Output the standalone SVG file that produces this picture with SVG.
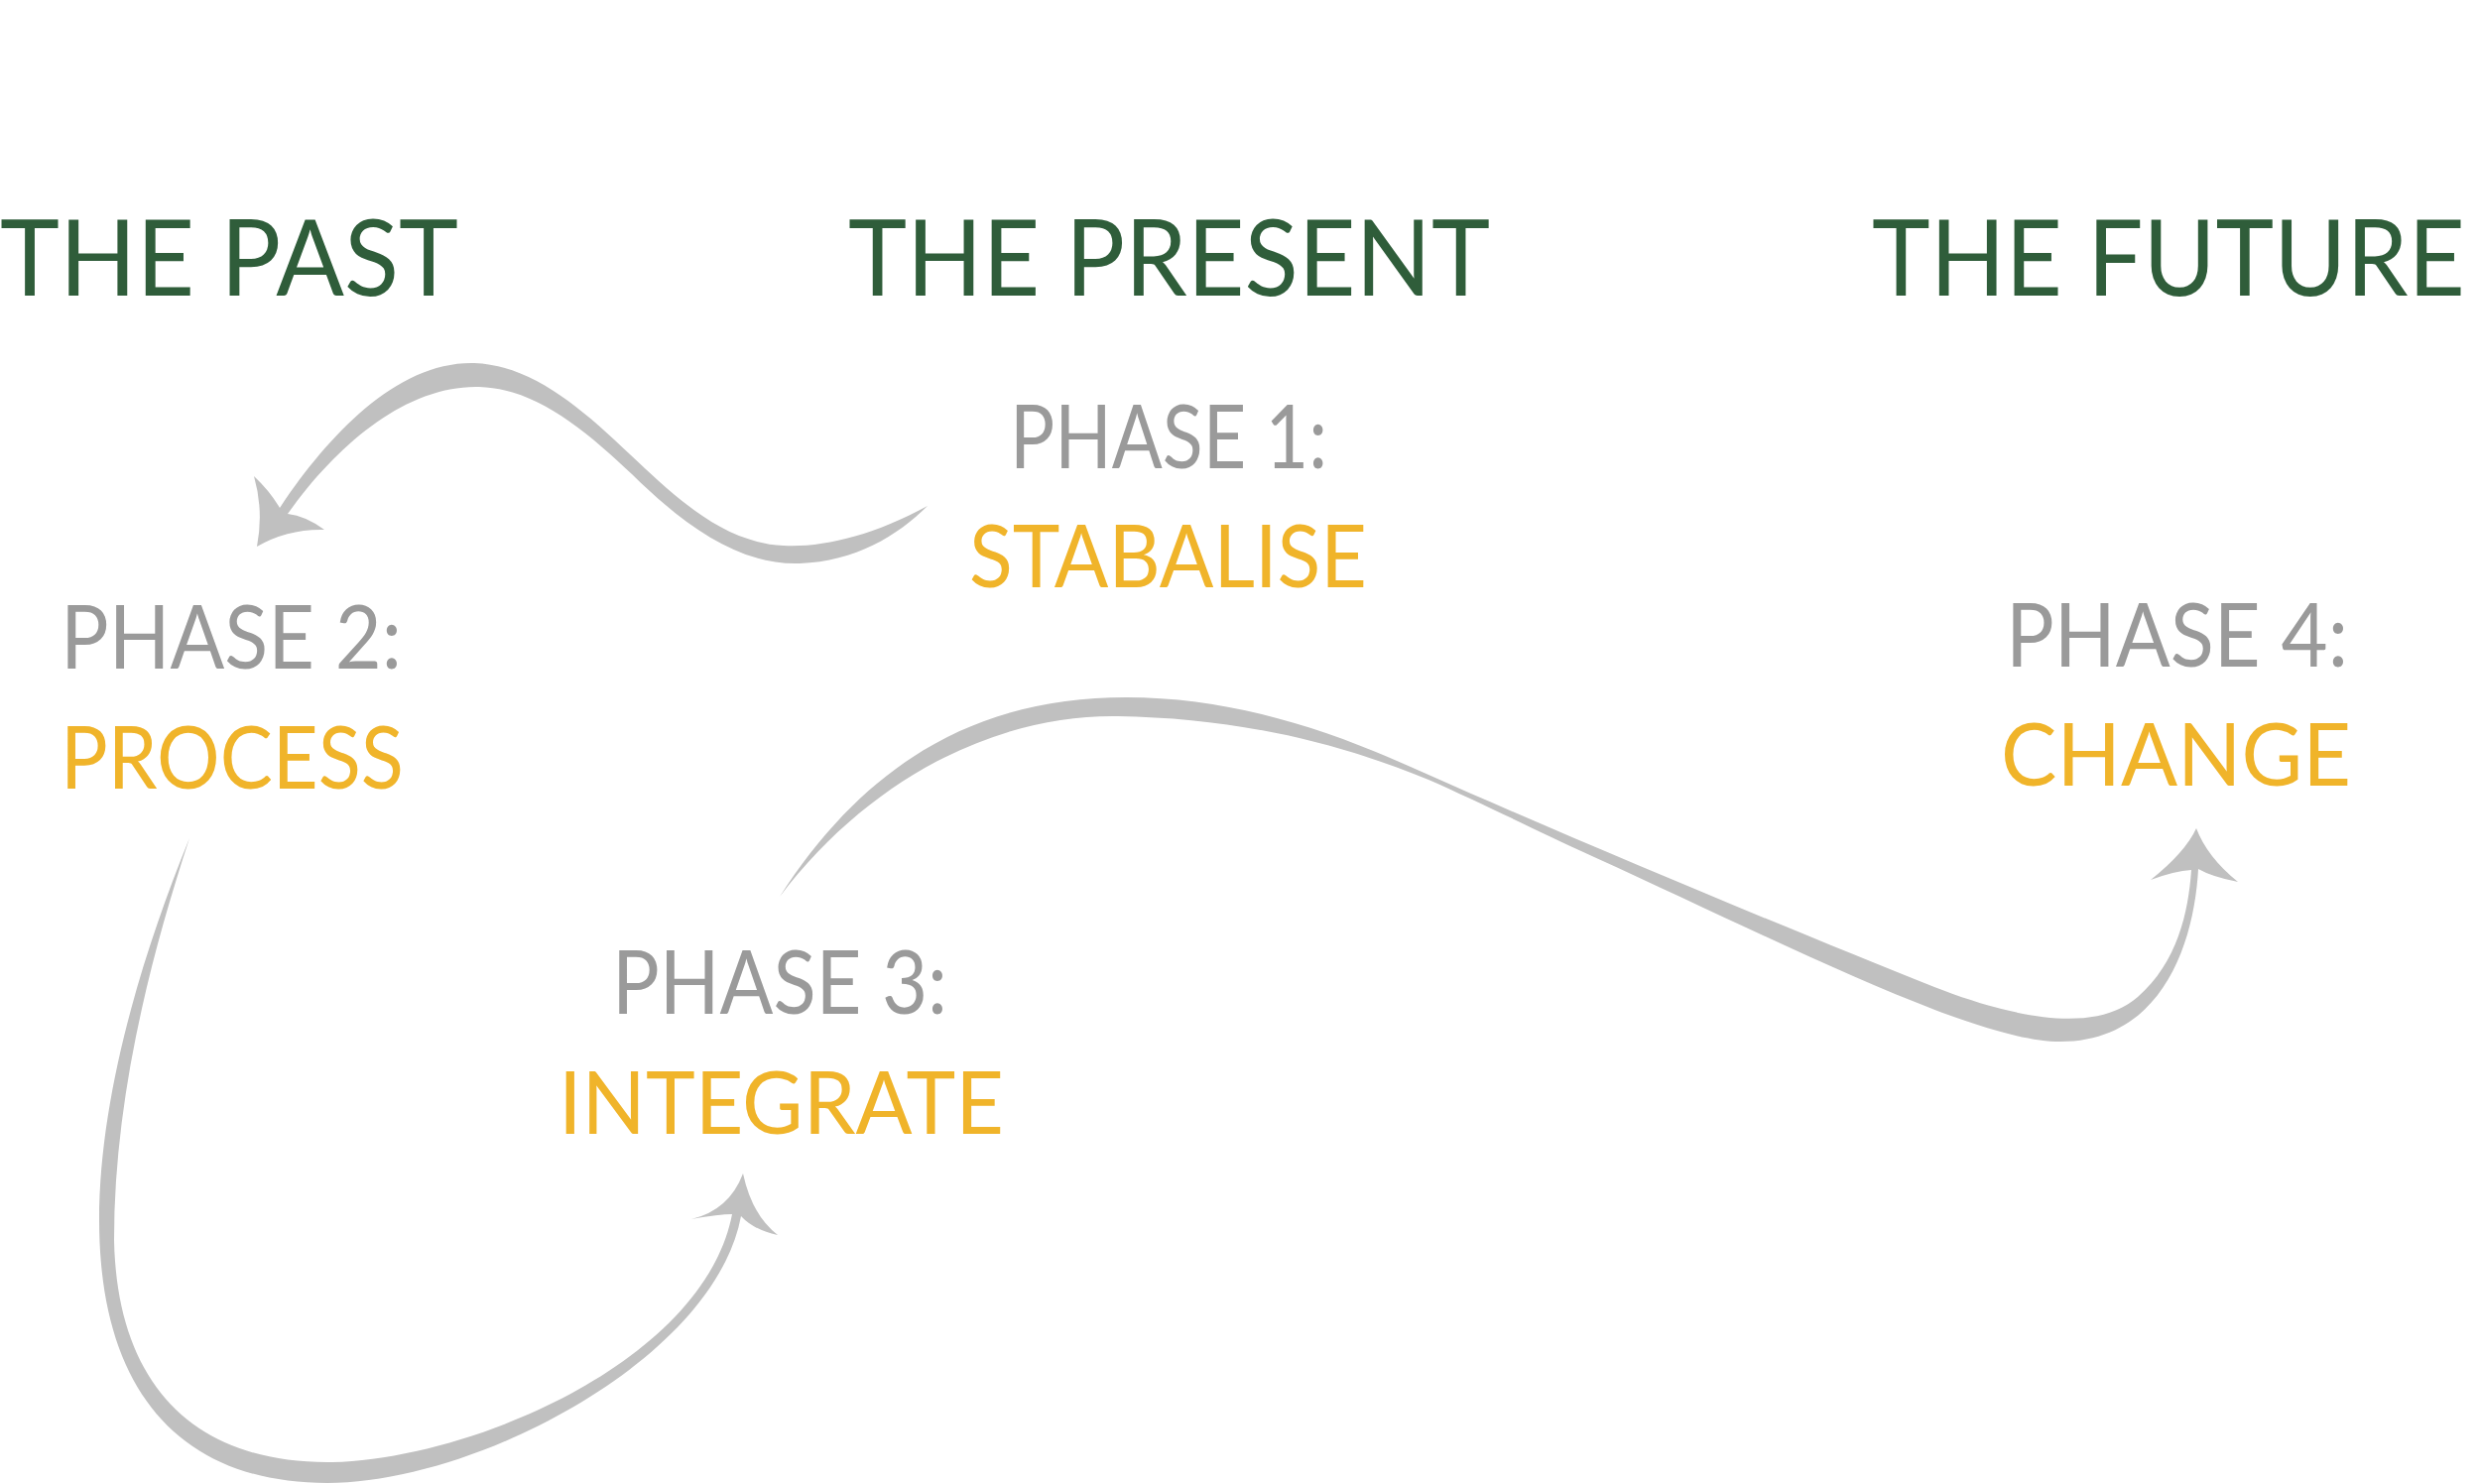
<svg xmlns="http://www.w3.org/2000/svg" width="2500" height="1496" viewBox="0 0 2500 1496">
<style>
.era{font-family:Lato,"Open Sans","Liberation Sans",sans-serif;font-size:107px;fill:#2f5d3a}
.ph{font-family:Lato,"Open Sans","Liberation Sans",sans-serif;font-size:89px;fill:#9a9a9a}
.nm{font-family:Lato,"Open Sans","Liberation Sans",sans-serif;font-size:87px;fill:#f0b42a}
.arrow{fill:#c0c0c0;stroke:none}
</style>
<rect width="2500" height="1496" fill="#ffffff"/>
<g id="era-past"><text class="era" x="0" y="298" textLength="462" lengthAdjust="spacingAndGlyphs">THE PAST</text></g>
<g id="era-present"><text class="era" x="855" y="298" textLength="647" lengthAdjust="spacingAndGlyphs">THE PRESENT</text></g>
<g id="era-future"><text class="era" x="1887" y="298" textLength="598" lengthAdjust="spacingAndGlyphs">THE FUTURE</text></g>
<g id="phase1">
<text class="ph" x="1018" y="472" textLength="320" lengthAdjust="spacingAndGlyphs">PHASE 1:</text>
<text class="nm" x="977" y="592" textLength="401" lengthAdjust="spacingAndGlyphs">STABALISE</text>
</g>
<g id="phase2">
<text class="ph" x="61" y="674" textLength="344" lengthAdjust="spacingAndGlyphs">PHASE 2:</text>
<text class="nm" x="61" y="795" textLength="346" lengthAdjust="spacingAndGlyphs">PROCESS</text>
</g>
<g id="phase3">
<text class="ph" x="617" y="1022" textLength="338" lengthAdjust="spacingAndGlyphs">PHASE 3:</text>
<text class="nm" x="563" y="1143" textLength="449" lengthAdjust="spacingAndGlyphs">INTEGRATE</text>
</g>
<g id="phase4">
<text class="ph" x="2022" y="672" textLength="345" lengthAdjust="spacingAndGlyphs">PHASE 4:</text>
<text class="nm" x="2017" y="792" textLength="353" lengthAdjust="spacingAndGlyphs">CHANGE</text>
</g>
<g id="connectors">
<path class="arrow" d="M 935,510 C 880,540 830,552 790,550 C 730,547 685,505 635,458 C 585,410 535,368 478,366 C 400,364 330,440 282,512 Q 272,495 256,480 Q 266,515 259,551 Q 290,533 327,534 Q 308,520 290,518 C 340,448 410,388 483,390 C 540,392 588,432 637,478 C 690,530 745,570 806,568 C 862,566 905,540 935,510 Z"/>
<path class="arrow" d="M 191,845 C 140,970 100,1110 100,1230 C 100,1400 180,1495 330,1495 C 480,1495 720,1370 747,1226 Q 760,1240 784,1245 Q 758,1225 749,1183 Q 735,1220 697,1229 Q 725,1224 738,1224 C 710,1370 480,1470 335,1474 C 200,1476 118,1400 115,1250 C 115,1110 150,970 191,845 Z"/>
<path class="arrow" d="M 786,904 C 875,765 990,703 1135,703 C 1250,703 1350,740 1440,781 C 1600,852 1800,935 1950,995 C 2040,1030 2115,1040 2155,1005 C 2195,970 2206,920 2209,877 Q 2192,878 2168,887 Q 2203,859 2214,835 Q 2225,864 2256,889 Q 2230,884 2216,876 C 2212,950 2180,1050 2077,1050 C 1990,1050 1800,952 1607,864 C 1540,833 1490,808 1440,786 C 1340,745 1240,724 1127,722 C 1010,720 880,780 786,904 Z"/>
</g>
</svg>
